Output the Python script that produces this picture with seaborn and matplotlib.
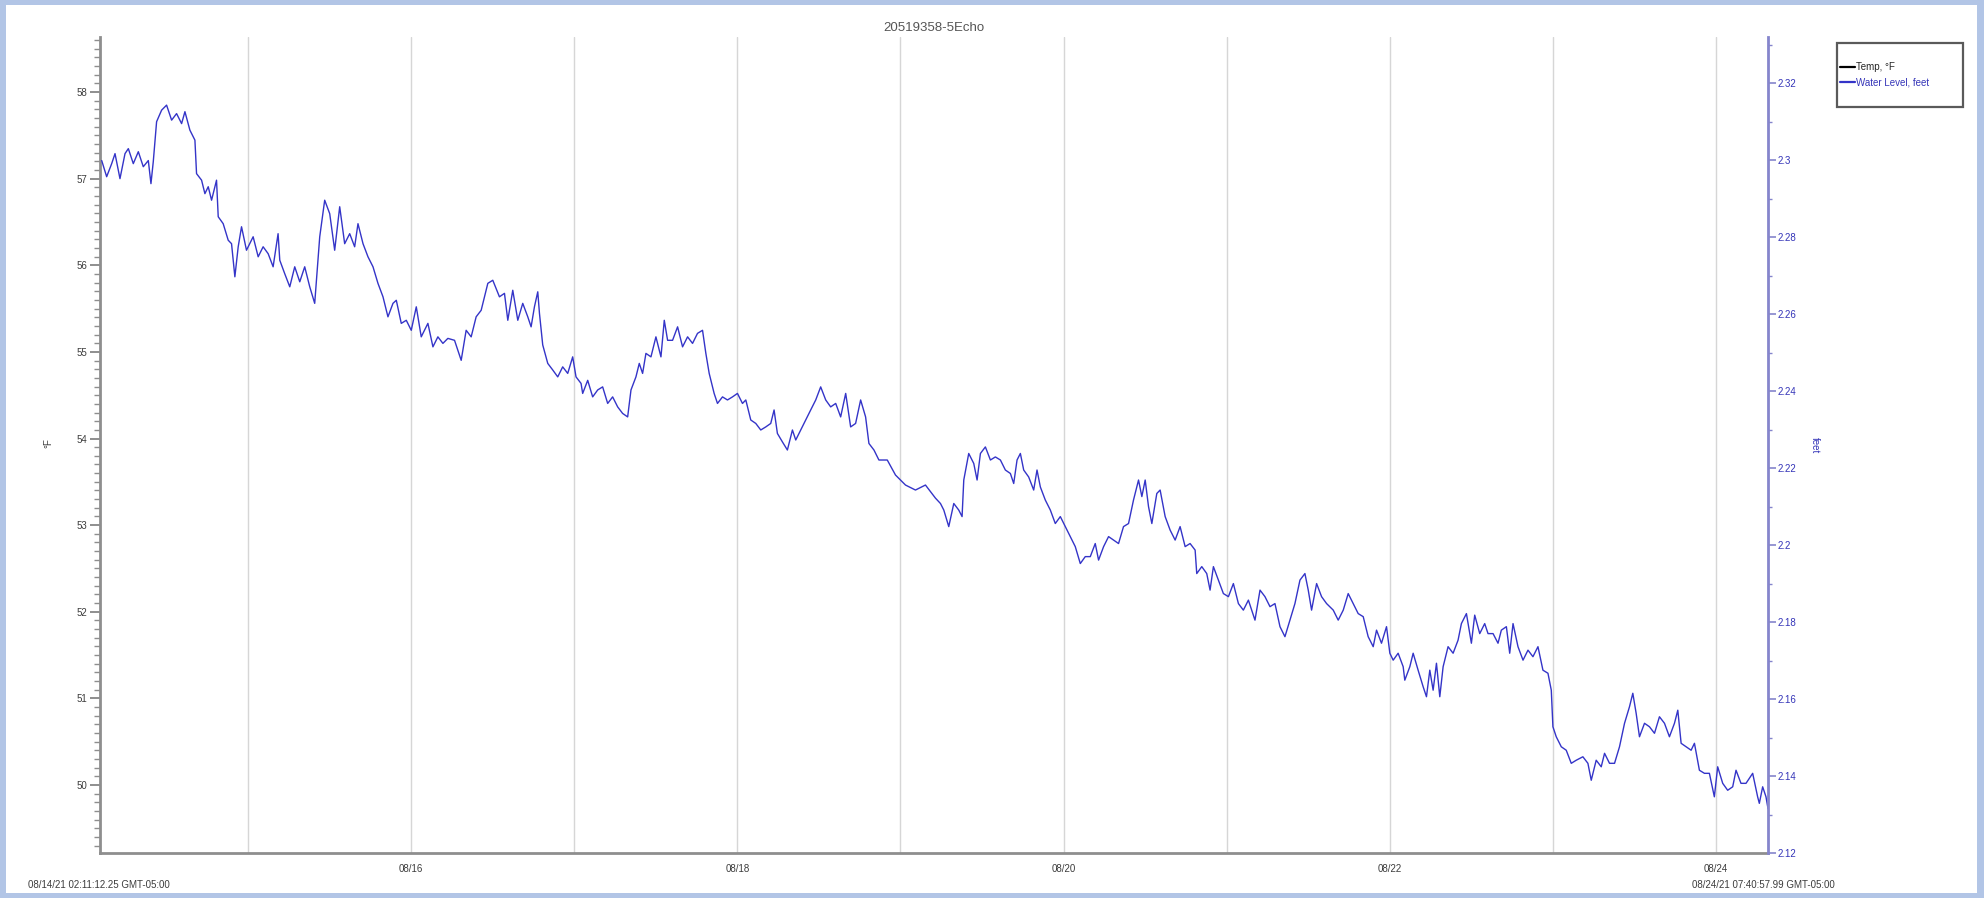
import pandas as pd
import matplotlib
matplotlib.use('Agg')
import matplotlib.pyplot as plt
import matplotlib.dates as mdates
from matplotlib.lines import Line2D
from matplotlib.patches import Rectangle
from matplotlib.ticker import MultipleLocator, FuncFormatter
import seaborn as sns

# logger info and series labels
title = '20519358-5Echo'
start_label = '08/14/21 02:11:12.25 GMT-05:00'
end_label = '08/24/21 07:40:57.99 GMT-05:00'
start_time = pd.Timestamp('2021-08-14 02:11:12.25')
end_time = pd.Timestamp('2021-08-24 07:40:57.99')
series_names = ['Temp, °F', 'Water Level, feet']

# water level trace: hours since launch, level in feet
hours = [
    0.25, 0.98, 1.72, 2.21, 2.94, 3.68, 4.17, 4.90, 5.64, 6.37,
    7.11, 7.50, 7.84, 8.33, 9.07, 9.80, 10.54, 11.27, 12.01, 12.50,
    13.23, 13.97, 14.21, 14.95, 15.44, 15.93, 16.42, 17.15, 17.40, 18.13,
    18.87, 19.36, 19.85, 20.34, 20.83, 21.56, 22.54, 23.28, 24.01, 24.75,
    25.48, 26.21, 26.46, 27.19, 27.93, 28.66, 29.40, 30.13, 30.87, 31.60,
    32.34, 33.07, 33.81, 34.54, 35.28, 36.01, 36.75, 37.48, 37.97, 38.71,
    39.44, 40.18, 40.91, 41.65, 42.38, 43.12, 43.61, 44.34, 45.08, 45.81,
    46.55, 47.28, 48.26, 49.00, 49.73, 50.47, 51.20, 52.18, 53.16, 53.89,
    54.63, 55.36, 56.10, 57.08, 57.81, 58.79, 59.53, 60.02, 60.75, 61.49,
    62.22, 62.96, 63.45,
    63.94, 64.43, 64.68, 65.16, 65.90, 66.63, 67.37, 68.10, 68.84, 69.57,
    70.06, 70.80, 71.04, 71.78, 72.51, 73.25, 73.98, 74.72, 75.45, 76.19,
    76.92, 77.66, 78.15, 78.88, 79.37, 79.86, 80.35, 81.09, 81.82, 82.56,
    83.05, 83.54, 84.27, 85.01, 85.74, 86.48, 87.21, 87.94, 88.68, 89.17,
    89.66, 90.39, 90.88, 91.62, 92.35, 93.09, 93.82, 94.56, 95.05, 95.78,
    96.52, 97.25, 97.99, 98.72, 99.21, 99.70, 100.44, 101.17, 101.91, 102.40,
    103.13, 103.87, 104.60, 105.34, 106.07, 106.81, 107.54, 108.28, 109.01, 109.75,
    110.48, 111.21, 111.95, 112.68, 113.17, 113.91, 114.64, 115.87,
    117.08, 118.55, 120.02, 121.49, 122.96,
    123.70, 124.19, 124.92, 125.66, 126.39, 126.88, 127.13, 127.86, 128.60, 129.09,
    129.58, 130.31, 131.05, 131.78, 132.52, 133.25, 133.99, 134.48, 134.97, 135.46,
    135.95, 136.68, 137.42, 137.91, 138.40, 139.13, 139.87, 140.60, 141.34, 142.07,
    142.81, 143.54, 144.28, 145.01, 145.75, 146.48, 146.97, 147.71, 148.44, 149.17,
    149.91, 150.64, 151.38, 152.11, 152.85, 153.34, 153.83, 154.32, 154.81, 155.54,
    156.03, 156.77, 157.50, 158.24, 158.97, 159.71, 160.44, 161.18, 161.42, 162.16,
    162.89, 163.38, 163.87, 164.61, 165.34, 166.08, 166.81, 167.55, 168.28, 169.02,
    169.99, 170.73, 171.46, 172.20, 172.93, 173.67, 174.40, 175.14, 175.87, 176.61,
    177.34, 177.83, 178.32, 179.06, 179.79, 180.53, 181.51, 182.24, 182.98, 183.71,
    184.45, 185.18, 185.92, 186.65,
    187.39, 187.88, 188.61, 189.35, 189.84, 190.33, 191.06, 191.80, 192.04, 192.78,
    193.27, 194.00, 194.74, 195.23, 195.72, 196.21, 196.70, 197.19, 197.68, 198.41,
    199.15, 199.88, 200.37, 201.11, 201.84, 202.33, 203.07, 203.80, 204.29, 205.03,
    205.76, 206.25, 206.99, 207.48, 207.97, 208.70, 209.44, 210.17, 210.90, 211.64,
    212.37, 213.11, 213.60, 213.84, 214.33, 215.07, 215.80, 216.54, 217.27, 218.25,
    218.99, 219.48, 220.21, 220.95, 221.44, 222.17, 222.91, 223.64, 224.38, 225.11,
    225.60, 226.09, 226.58, 227.32, 228.05, 228.79, 229.52, 230.26, 230.99, 231.73,
    232.22, 232.71, 233.44, 234.18, 234.67, 235.40, 236.14, 236.87, 237.60, 238.09,
    238.83, 239.56, 240.30, 240.79, 241.52, 242.26, 243.24, 243.97, 244.22, 244.71,
    245.20, 245.50,
]
level_ft = [
    2.2999, 2.2957, 2.2991, 2.3017, 2.2952, 2.3017, 2.3030, 2.2991, 2.3022, 2.2983,
    2.2999, 2.2939, 2.2996, 2.3100, 2.3130, 2.3143, 2.3104, 2.3121, 2.3095, 2.3126,
    2.3078, 2.3052, 2.2965, 2.2948, 2.2913, 2.2931, 2.2896, 2.2948, 2.2853, 2.2835,
    2.2792, 2.2783, 2.2697, 2.2775, 2.2827, 2.2766, 2.2801, 2.2749, 2.2775, 2.2757,
    2.2723, 2.2809, 2.2740, 2.2705, 2.2671, 2.2723, 2.2684, 2.2723, 2.2671, 2.2628,
    2.2801, 2.2896, 2.2861, 2.2766, 2.2879, 2.2783, 2.2809, 2.2775, 2.2835, 2.2783,
    2.2749, 2.2723, 2.2680, 2.2645, 2.2593, 2.2628, 2.2636, 2.2576, 2.2584, 2.2558,
    2.2619, 2.2541, 2.2576, 2.2515, 2.2541, 2.2524, 2.2537, 2.2532, 2.2480, 2.2558,
    2.2541, 2.2593, 2.2610, 2.2680, 2.2688, 2.2645, 2.2654, 2.2584, 2.2662, 2.2584,
    2.2628, 2.2593, 2.2567,
    2.2619, 2.2658, 2.2602, 2.2520, 2.2472, 2.2455, 2.2437, 2.2463, 2.2446, 2.2489,
    2.2437, 2.2420, 2.2394, 2.2428, 2.2385, 2.2403, 2.2411, 2.2368, 2.2385, 2.2359,
    2.2342, 2.2333, 2.2403, 2.2437, 2.2472, 2.2446, 2.2498, 2.2489, 2.2541, 2.2489,
    2.2584, 2.2532, 2.2532, 2.2567, 2.2515, 2.2541, 2.2524, 2.2550, 2.2558, 2.2498,
    2.2446, 2.2394, 2.2368, 2.2385, 2.2377, 2.2385, 2.2394, 2.2368, 2.2377, 2.2325,
    2.2316, 2.2299, 2.2307, 2.2316, 2.2351, 2.2290, 2.2268, 2.2247, 2.2299, 2.2273,
    2.2299, 2.2325, 2.2351, 2.2377, 2.2411, 2.2377, 2.2359, 2.2368, 2.2333, 2.2394,
    2.2307, 2.2316, 2.2377, 2.2333, 2.2264, 2.2247, 2.2221, 2.2221,
    2.2182, 2.2156, 2.2143, 2.2156, 2.2122,
    2.2108, 2.2091, 2.2048, 2.2108, 2.2091, 2.2074, 2.2169, 2.2238, 2.2212, 2.2169,
    2.2238, 2.2255, 2.2221, 2.2229, 2.2221, 2.2195, 2.2186, 2.2160, 2.2221, 2.2238,
    2.2195, 2.2177, 2.2143, 2.2195, 2.2151, 2.2117, 2.2091, 2.2056, 2.2074, 2.2048,
    2.2022, 2.1996, 2.1952, 2.1970, 2.1970, 2.2004, 2.1961, 2.1996, 2.2022, 2.2013,
    2.2004, 2.2048, 2.2056, 2.2117, 2.2169, 2.2126, 2.2169, 2.2100, 2.2056, 2.2134,
    2.2143, 2.2074, 2.2039, 2.2013, 2.2048, 2.1996, 2.2004, 2.1987, 2.1926, 2.1944,
    2.1926, 2.1883, 2.1944, 2.1909, 2.1874, 2.1866, 2.1900, 2.1848, 2.1831, 2.1857,
    2.1805, 2.1883, 2.1866, 2.1840, 2.1848, 2.1788, 2.1762, 2.1805, 2.1848, 2.1909,
    2.1926, 2.1883, 2.1831, 2.1900, 2.1866, 2.1848, 2.1831, 2.1805, 2.1831, 2.1874,
    2.1848, 2.1822, 2.1814, 2.1762,
    2.1736, 2.1779, 2.1745, 2.1788, 2.1719, 2.1701, 2.1719, 2.1684, 2.1649, 2.1684,
    2.1719, 2.1675, 2.1632, 2.1606, 2.1675, 2.1623, 2.1693, 2.1606, 2.1684, 2.1736,
    2.1719, 2.1753, 2.1796, 2.1822, 2.1745, 2.1818, 2.1770, 2.1796, 2.1770, 2.1770,
    2.1745, 2.1779, 2.1788, 2.1719, 2.1796, 2.1736, 2.1701, 2.1727, 2.1710, 2.1736,
    2.1675, 2.1667, 2.1623, 2.1528, 2.1502, 2.1476, 2.1467, 2.1433, 2.1441, 2.1450,
    2.1433, 2.1389, 2.1441, 2.1424, 2.1459, 2.1433, 2.1433, 2.1476, 2.1537, 2.1580,
    2.1615, 2.1563, 2.1502, 2.1537, 2.1528, 2.1511, 2.1554, 2.1537, 2.1502, 2.1537,
    2.1571, 2.1485, 2.1476, 2.1467, 2.1485, 2.1415, 2.1407, 2.1407, 2.1346, 2.1424,
    2.1381, 2.1363, 2.1372, 2.1415, 2.1381, 2.1381, 2.1407, 2.1346, 2.1329, 2.1372,
    2.1346, 2.1315,
]

# axis ranges
temp_range = (49.215, 58.635)
level_range = (2.12, 2.332)

df = pd.DataFrame({'time': start_time + pd.to_timedelta(hours, unit='h'),
                   'level': level_ft})

sns.set_style('white')
plt.rcParams['font.family'] = ['Liberation Sans', 'DejaVu Sans']

W, H = 1984, 898
frame_blue = '#b2c5e6'
line_blue = '#3434c8'
label_blue = '#3434b8'
spine_blue = '#8585cc'
gray = '#8e8e8e'
text_gray = '#3c3c3c'

fig = plt.figure(figsize=(W / 100, H / 100), dpi=100, facecolor=frame_blue)
fig.add_artist(Rectangle((6 / W, 5 / H), (1977 - 6) / W, (893 - 5) / H,
                         transform=fig.transFigure, facecolor='white',
                         edgecolor='none', zorder=-10))

ax = fig.add_axes([100 / W, 1 - 853 / H, (1768 - 100) / W, (853 - 37) / H])
ax.set_facecolor('none')
ax2 = ax.twinx()

sns.lineplot(data=df, x='time', y='level', ax=ax2, color=line_blue,
             linewidth=1.0, estimator=None)

# left axis (temperature)
ax.set_xlim(start_time, end_time)
ax.set_ylim(*temp_range)
ax.yaxis.set_major_locator(MultipleLocator(1))
ax.yaxis.set_minor_locator(MultipleLocator(0.1))
ax.tick_params(axis='y', which='major', length=7, width=1.4, color=gray,
               labelsize=7, labelcolor=text_gray, pad=2)
ax.tick_params(axis='y', which='minor', length=4, width=1.0, color=gray)
for s in ['top', 'right']:
    ax.spines[s].set_visible(False)
for s in ['left', 'bottom']:
    ax.spines[s].set_color(gray)
    ax.spines[s].set_linewidth(2)

# x axis: a tick and grid line every day, labels on even days
ax.xaxis.set_major_locator(mdates.DayLocator())
def day_fmt(v, pos):
    d = mdates.num2date(v)
    return d.strftime('%m/%d') if d.day % 2 == 0 else ''
ax.xaxis.set_major_formatter(FuncFormatter(day_fmt))
ax.tick_params(axis='x', which='major', length=6, width=1.4, color=gray,
               labelsize=7, labelcolor=text_gray, pad=2)
ax.grid(axis='x', which='major', color='#d6d6d6', linewidth=1.0)
ax.grid(axis='y', visible=False)
ax.set_xlabel('')
ax.set_ylabel('')

# right axis (water level)
ax2.set_xlim(start_time, end_time)
ax2.set_ylim(*level_range)
ax2.yaxis.set_major_locator(MultipleLocator(0.02))
ax2.yaxis.set_minor_locator(MultipleLocator(0.01))
ax2.yaxis.set_major_formatter(FuncFormatter(
    lambda v, pos: f'{v:.2f}'.rstrip('0').rstrip('.')))
ax2.tick_params(axis='y', which='major', length=6, width=1.2, color=spine_blue,
                labelsize=7, labelcolor=label_blue, pad=1)
ax2.tick_params(axis='y', which='minor', length=3, width=1.0, color=spine_blue)
for s in ['top', 'left', 'bottom']:
    ax2.spines[s].set_visible(False)
ax2.spines['right'].set_color(spine_blue)
ax2.spines['right'].set_linewidth(2)
ax2.grid(False)
ax2.set_xlabel('')
ax2.set_ylabel('')

# titles and labels
fig.text(934 / W, 1 - 28 / H, title, ha='center', va='center',
         fontsize=9.5, color='#555555')
fig.text(48 / W, 1 - 443 / H, '°F', ha='center', va='center', rotation=90,
         fontsize=7, color=text_gray)
fig.text(1815 / W, 1 - 445 / H, 'feet', ha='center', va='center',
         rotation=270, fontsize=7, color=label_blue)
fig.text(99 / W, 1 - 885 / H, start_label, ha='center', va='center',
         fontsize=7, color=text_gray)
fig.text(1763 / W, 1 - 885 / H, end_label, ha='center', va='center',
         fontsize=7, color=text_gray)

# legend with a square frame
fig.add_artist(Rectangle((1837 / W, 1 - 107 / H), 126 / W, 64 / H,
                         transform=fig.transFigure, facecolor='white',
                         edgecolor='#5a5a5a', linewidth=1.6, zorder=5))
handles = [Line2D([], [], color='black', lw=1.6),
           Line2D([], [], color=line_blue, lw=1.6)]
leg = fig.legend(handles, series_names, loc='center left',
                 bbox_to_anchor=(1838 / W, 1 - 75 / H), frameon=False,
                 fontsize=7, handlelength=1.5, handletextpad=0.15,
                 labelspacing=0.55, borderpad=0.2, borderaxespad=0)
leg.set_zorder(6)
leg.get_texts()[1].set_color(label_blue)

fig.savefig('out.png', dpi=100, facecolor=fig.get_facecolor())
